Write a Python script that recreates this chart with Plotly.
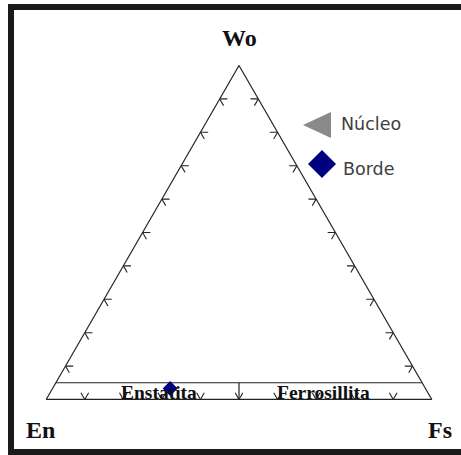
import plotly.graph_objects as go

W, H = 461, 455

# ---------------- data ----------------
nucleo_wo = [3.3]
nucleo_en = [66.3]
nucleo_fs = [30.4]

borde_wo = [3.3]
borde_en = [66.2]
borde_fs = [30.5]

tick_values = [10, 20, 30, 40, 50, 60, 70, 80, 90]
field_boundary_wo = 5          # Wo % limit of the En-Fs field
field_names = ["Enstatita", "Ferrosillita"]
apex_labels = ["Wo", "En", "Fs"]
legend_names = ["Núcleo", "Borde"]


def px(x):
    return x / W


def py(y):
    return 1 - y / H


# ---------------- tick marks (short grid segments on each edge) ----------------
d = 2.0
ta, tb, tc = [], [], []


def seg(p, q):
    for pt in (p, q):
        ta.append(pt[0]); tb.append(pt[1]); tc.append(pt[2])
    ta.append(None); tb.append(None); tc.append(None)


for t in tick_values:
    # left edge (Fs = 0)
    seg((t, 100 - t, 0), (t, 100 - t - d, d))
    seg((t, 100 - t, 0), (t - d, 100 - t, d))
    # right edge (En = 0)
    seg((t, 0, 100 - t), (t, d, 100 - t - d))
    seg((t, 0, 100 - t), (t - d, d, 100 - t))
    # bottom edge (Wo = 0), t = Fs
    seg((0, 100 - t, t), (d, 100 - t, t - d))
    seg((0, 100 - t, t), (d, 100 - t - d, t))

fig = go.Figure()

fig.add_trace(go.Scatterternary(
    a=ta, b=tb, c=tc, mode="lines",
    line=dict(color="#222222", width=1.1), hoverinfo="skip", showlegend=False,
    connectgaps=False,
))

# field boundaries
fb = field_boundary_wo
fig.add_trace(go.Scatterternary(
    a=[fb, fb, None, 0, fb],
    b=[100 - fb, 0, None, 50, (100 - fb) / 2],
    c=[0, 100 - fb, None, 50, (100 - fb) / 2],
    mode="lines", line=dict(color="#222222", width=1.2),
    hoverinfo="skip", showlegend=False, connectgaps=False,
))

# data
fig.add_trace(go.Scatterternary(
    a=nucleo_wo, b=nucleo_en, c=nucleo_fs, mode="markers", name=legend_names[0],
    marker=dict(symbol="triangle-left", size=9, color="#8a8a8a", line=dict(width=0)),
    showlegend=False,
))
fig.add_trace(go.Scatterternary(
    a=borde_wo, b=borde_en, c=borde_fs, mode="markers", name=legend_names[1],
    marker=dict(symbol="diamond", size=11.5, color="#000080", line=dict(width=0)),
    showlegend=False,
))

axis_style = dict(showgrid=False, showticklabels=False, ticks="", showline=True,
                  linecolor="#222222", linewidth=1.2, title=dict(text=""))

x0, x1, yt, yb = 46.2, 431.8, 65.5, 399.5
fig.update_layout(
    width=W, height=H,
    margin=dict(l=0, r=0, t=0, b=0),
    paper_bgcolor="white",
    showlegend=False,
    ternary=dict(
        sum=100,
        bgcolor="white",
        domain=dict(x=[px(x0), px(x1)], y=[py(yb), py(yt)]),
        aaxis=axis_style, baxis=axis_style, caxis=axis_style,
    ),
)

serif = "Liberation Serif"
sans = "DejaVu Sans"
ann = []
for text, (x, y) in zip(apex_labels, [(240, 37.5), (40, 430), (440, 430)]):
    ann.append(dict(text=f"<b>{text}</b>", x=px(x), y=py(y), xref="paper", yref="paper",
                    showarrow=False, xanchor="center", yanchor="middle",
                    font=dict(family=serif, size=24, color="#111111")))
for text, (x, y) in zip(field_names, [(159, 392.5), (323, 392.5)]):
    ann.append(dict(text=f"<b>{text}</b>", x=px(x), y=py(y), xref="paper", yref="paper",
                    showarrow=False, xanchor="center", yanchor="middle",
                    font=dict(family=serif, size=19.5, color="#111111")))
for text, (x, y) in zip(legend_names, [(339, 124), (341, 168.5)]):
    ann.append(dict(text=text, x=px(x), y=py(y), xref="paper", yref="paper",
                    showarrow=False, xanchor="left", yanchor="middle",
                    font=dict(family=sans, size=17.5, color="#404040")))
fig.update_layout(annotations=ann)


def path(points):
    return "M " + " L ".join(f"{px(x):.5f},{py(y):.5f}" for x, y in points) + " Z"


frame_right = 1.0  # paper edge
shapes = [
    # frame (open on the right, as in the cropped original)
    dict(type="path", xref="paper", yref="paper",
         path=f"M {frame_right:.5f},{py(7):.5f} L {px(11):.5f},{py(7):.5f} "
              f"L {px(11):.5f},{py(452):.5f} L {frame_right:.5f},{py(452):.5f}",
         line=dict(color="#1a1a1a", width=6), fillcolor="rgba(0,0,0,0)"),
    # legend symbols
    dict(type="path", xref="paper", yref="paper",
         path=path([(303, 125), (331, 112), (331, 138)]),
         fillcolor="#8a8a8a", line=dict(width=0)),
    dict(type="path", xref="paper", yref="paper",
         path=path([(308, 164), (322, 150), (336, 164), (322, 178)]),
         fillcolor="#000080", line=dict(width=0)),
]
fig.update_layout(shapes=shapes)

fig.write_html(
    "out.html",
    config={"displayModeBar": False},
    post_script="document.body.style.margin='0';document.body.style.padding='0';"
                "document.body.style.overflow='hidden';",
)
